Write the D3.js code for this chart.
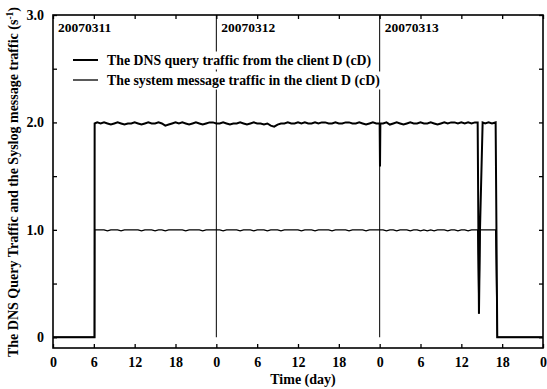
<!DOCTYPE html>
<html><head><meta charset="utf-8">
<script src="https://cdn.jsdelivr.net/npm/d3@7"></script>
<style>
html,body{margin:0;padding:0;background:#fff;}
svg text{font-family:"Liberation Serif","Times New Roman",serif;font-weight:bold;fill:#000;}
</style></head>
<body><svg id="chart" width="547" height="389"></svg>
<script>
// ---- data ----
const hours = [0, 6.1, 6.12,
 6.5,7,7.5,8,8.5,9,9.5,10,10.5,11,11.5,12,
 12.5,13,13.5,14,14.5,15,15.5,16,16.5,17,17.5,18,
 18.5,19,19.5,20,20.5,21,21.5,22,22.5,23,23.5,24,
 24.5,25,25.5,26,26.5,27,27.5,28,28.5,29,29.5,30,
 30.5,31,31.5,32,32.5,33,33.5,34,34.5,35,35.5,36,
 36.5,37,37.5,38,38.5,39,39.5,40,40.5,41,41.5,42,
 42.5,43,43.5,44,44.5,45,45.5,46,46.5,47,47.5,48,
 48.05,48.1,
 48.5,49,49.5,50,50.5,51,51.5,52,52.5,53,53.5,54,
 54.5,55,55.5,56,56.5,57,57.5,58,58.5,59,59.5,60,
 60.5,61,61.5,62,
 62.4,62.59,62.74,63.13,63.5,64,64.5,65.04,65.28,72];

const dnsTraffic = [0, 0, 1.99,
 2.00,1.99,2.00,1.99,1.98,1.99,2.00,1.99,1.98,1.99,1.99,2.00,
 1.99,1.98,1.99,2.00,1.99,1.99,2.00,1.99,1.97,1.98,1.99,2.00,
 1.99,2.00,1.99,1.98,1.99,2.00,1.99,1.98,1.99,2.00,2.00,1.99,
 1.99,2.00,1.99,1.98,1.99,1.99,2.00,1.99,1.98,1.99,2.00,1.99,
 1.99,1.98,1.99,1.97,1.96,1.98,1.99,1.99,2.00,1.99,1.99,2.00,
 1.99,2.00,1.99,1.99,2.00,1.99,2.00,2.00,1.99,1.99,2.00,1.99,
 1.99,2.00,2.00,1.99,1.99,2.00,1.99,1.98,1.99,2.00,1.99,1.99,
 1.59,1.99,
 1.99,2.00,1.98,1.99,2.00,1.99,1.98,1.99,2.00,1.99,1.99,2.00,
 1.99,1.99,2.00,1.99,1.98,1.99,2.00,1.99,2.00,2.00,1.99,2.00,
 1.99,2.00,1.99,2.00,
 2.00,0.22,1.00,2.00,1.99,2.00,1.99,2.00,0,0];

const sysTraffic = [0, 0, 1.00,
 1.00,1.00,1.00,0.99,1.00,1.00,1.00,0.99,1.00,1.00,1.00,1.00,
 1.00,0.99,1.00,1.00,1.00,0.99,1.00,1.00,0.99,1.00,1.00,1.00,
 1.00,1.00,0.99,1.00,1.00,1.00,1.00,0.99,1.00,1.00,1.00,1.00,
 1.00,0.99,1.00,1.00,1.00,1.00,0.99,1.00,1.00,1.00,0.99,1.00,
 1.00,1.00,0.99,1.00,1.00,1.00,0.99,1.00,1.00,1.00,1.00,1.00,
 0.99,1.00,1.00,1.00,0.99,1.00,1.00,1.00,1.00,0.99,1.00,1.00,
 1.00,1.00,0.99,1.00,1.00,1.00,1.00,0.99,1.00,1.00,1.00,1.00,
 1.00,1.00,
 1.00,0.99,1.00,1.00,0.99,1.00,1.00,1.00,0.99,1.00,1.00,0.99,
 1.00,0.99,1.00,0.99,1.00,1.00,1.00,0.99,1.00,1.00,0.99,1.00,
 1.00,0.99,1.00,1.00,
 1.00,0.22,1.00,1.00,1.00,1.00,1.00,1.00,0,0];

const xTickValues = [0,6,12,18,24,30,36,42,48,54,60,66,72];
const xTickLabels = ["0","6","12","18","0","6","12","18","0","6","12","18","0"];
const yMajorTicks = [0,1,2,3];
const yTickLabels = ["0","1.0","2.0","3.0"];
const yMinorTicks = [0.5,1.5,2.5];
const dayBoundaries = [24,48];
const dayLabels = ["20070311","20070312","20070313"];
const dayStarts = [0,24,48];
const legendLabels = ["The DNS query traffic from the client D (cD)","The system message traffic in the client D (cD)"];

// ---- layout ----
const svg = d3.select("#chart");
const L = 53, R = 543, T = 15, B = 348;
const x = d3.scaleLinear().domain([0,72]).range([L,R]);
const y = d3.scaleLinear().domain([-0.1,3.0]).range([B,T]);

// day separators
svg.append("g").selectAll("line").data(dayBoundaries).join("line")
  .attr("x1", d=>x(d)).attr("x2", d=>x(d))
  .attr("y1", T).attr("y2", y(0))
  .attr("stroke","#000").attr("stroke-width",1);

// data lines
const line = d3.line().x((d,i)=>x(hours[i])).y(d=>y(d));
svg.append("path").datum(sysTraffic).attr("d", line)
  .attr("fill","none").attr("stroke","#000").attr("stroke-width",1.3);
svg.append("path").datum(dnsTraffic).attr("d", line)
  .attr("fill","none").attr("stroke","#000").attr("stroke-width",2);

// day labels
svg.append("g").selectAll("text").data(dayLabels).join("text")
  .attr("x",(d,i)=>x(dayStarts[i])+5).attr("y",32)
  .attr("font-size",13.5).text(d=>d);

// legend
const leg = svg.append("g");
legendLabels.forEach((lab,i)=>{
  const yy = 60 + i*20;
  const t = leg.append("text").attr("x",107).attr("y",yy+4.5)
    .attr("font-size",13.8).text(lab);
  const bb = t.node().getBBox();
  leg.insert("rect","text").attr("x",bb.x-2).attr("y",bb.y-1)
    .attr("width",bb.width+4).attr("height",bb.height+2).attr("fill","#fff");
  leg.append("line").attr("x1",73).attr("x2",98).attr("y1",yy).attr("y2",yy)
    .attr("stroke","#000").attr("stroke-width", i===0?2:1.3);
});

// frame
svg.append("rect").attr("x",L).attr("y",T).attr("width",R-L).attr("height",B-T)
  .attr("fill","none").attr("stroke","#000").attr("stroke-width",1.6);

// x axis ticks (bottom & top, inward)
const xAxisB = d3.axisBottom(x).tickValues(xTickValues).tickSizeInner(-4).tickSizeOuter(0)
  .tickPadding(9).tickFormat((d,i)=>xTickLabels[i]);
const gxb = svg.append("g").attr("transform",`translate(0,${B})`).call(xAxisB);
const xAxisT = d3.axisTop(x).tickValues(xTickValues).tickSizeInner(-4).tickSizeOuter(0).tickFormat("");
const gxt = svg.append("g").attr("transform",`translate(0,${T})`).call(xAxisT);

// y axis ticks (left & right, inward)
const allY = yMajorTicks.concat(yMinorTicks);
const yAxisL = d3.axisLeft(y).tickValues(yMajorTicks).tickSizeInner(-4).tickSizeOuter(0)
  .tickPadding(9).tickFormat((d,i)=>yTickLabels[i]);
const gyl = svg.append("g").attr("transform",`translate(${L},0)`).call(yAxisL);
const gylm = svg.append("g").attr("transform",`translate(${L},0)`)
  .call(d3.axisLeft(y).tickValues(yMinorTicks).tickSizeInner(-4).tickSizeOuter(0).tickFormat(""));
const gyr = svg.append("g").attr("transform",`translate(${R},0)`)
  .call(d3.axisRight(y).tickValues(allY).tickSizeInner(-4).tickSizeOuter(0).tickFormat(""));

[gxb,gxt,gyl,gylm,gyr].forEach(g=>{
  g.select(".domain").remove();
  g.selectAll(".tick line").attr("stroke","#000").attr("stroke-width",1.3);
  g.selectAll("text").attr("font-size",14).attr("font-family",null).attr("fill","#000");
});

// axis titles
svg.append("text").attr("x",303).attr("y",384).attr("text-anchor","middle")
  .attr("font-size",14).text("Time (day)");
const yt = svg.append("text").attr("transform","translate(18,182) rotate(-90)")
  .attr("text-anchor","middle").attr("font-size",14);
yt.append("tspan").text("The DNS Query Traffic and the Syslog message traffic (s");
yt.append("tspan").attr("dy",-5).attr("font-size",9.5).text("-1");
yt.append("tspan").attr("dy",5).text(")");
</script></body></html>
